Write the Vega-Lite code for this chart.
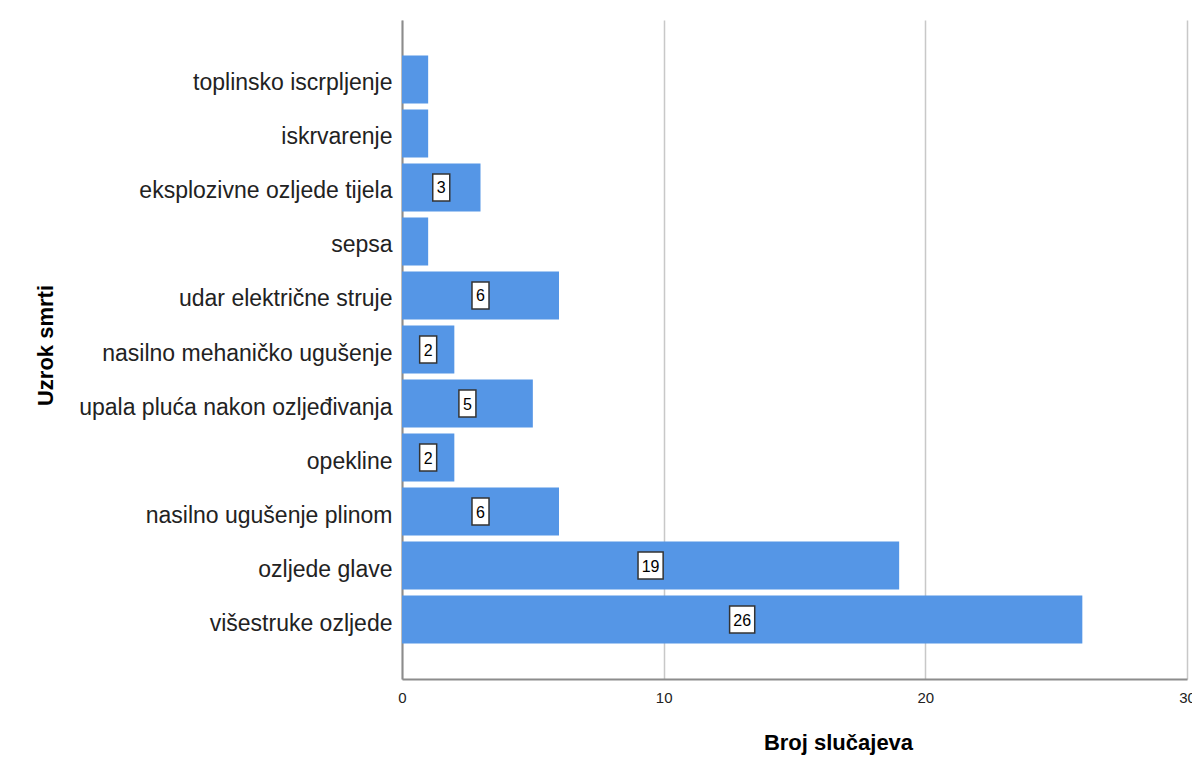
{
  "$schema": "https://vega.github.io/schema/vega-lite/v6.json",
  "autosize": "none",
  "width": 785,
  "height": 659,
  "padding": {"left": 402, "top": 20, "right": 5, "bottom": 92},
  "background": "white",
  "config": {
    "font": "Liberation Sans",
    "view": {"stroke": null}
  },
  "data": {
    "values": [
      {"uzrok": "toplinsko iscrpljenje", "broj": 1},
      {"uzrok": "iskrvarenje", "broj": 1},
      {"uzrok": "eksplozivne ozljede tijela", "broj": 3},
      {"uzrok": "sepsa", "broj": 1},
      {"uzrok": "udar električne struje", "broj": 6},
      {"uzrok": "nasilno mehaničko ugušenje", "broj": 2},
      {"uzrok": "upala pluća nakon ozljeđivanja", "broj": 5},
      {"uzrok": "opekline", "broj": 2},
      {"uzrok": "nasilno ugušenje plinom", "broj": 6},
      {"uzrok": "ozljede glave", "broj": 19},
      {"uzrok": "višestruke ozljede", "broj": 26}
    ]
  },
  "encoding": {
    "y": {
      "field": "uzrok",
      "type": "nominal",
      "sort": null,
      "scale": {"paddingInner": 0.111, "paddingOuter": 0.657},
      "axis": {
        "title": "Uzrok smrti",
        "titleFontSize": 22,
        "titleFontWeight": "bold",
        "titleColor": "#000",
        "titleX": -357,
        "titleY": 325,
        "titleBaseline": "middle",
        "labelFontSize": 23,
        "labelColor": "#222",
        "labelPadding": 10,
        "labelOffset": 4,
        "labelLimit": 400,
        "ticks": false,
        "domainColor": "#8c8c8c",
        "domainWidth": 2,
        "grid": false
      }
    }
  },
  "layer": [
    {
      "mark": {"type": "bar", "color": "#5596e6"},
      "encoding": {
        "x": {
          "field": "broj",
          "type": "quantitative",
          "scale": {"domain": [0, 30], "nice": false},
          "axis": {
            "title": "Broj slučajeva",
            "titleFontSize": 22,
            "titleFontWeight": "bold",
            "titleColor": "#000",
            "titlePadding": 27,
            "titleX": 436,
            "values": [0, 10, 20, 30],
            "labelFontSize": 15,
            "labelColor": "#222",
            "labelPadding": 11,
            "labelFlush": false,
            "labelBound": false,
            "labelOverlap": false,
            "ticks": false,
            "domainColor": "#8c8c8c",
            "domainWidth": 2,
            "grid": true,
            "gridColor": "#c8c8c8",
            "gridWidth": 1.5
          }
        }
      }
    },
    {
      "transform": [{"filter": "datum.broj >= 2 && datum.broj < 10"}, {"calculate": "datum.broj / 2", "as": "sredina"}],
      "mark": {"type": "point", "shape": "M-0.63,-1H0.63V1H-0.63Z", "filled": true, "fill": "white", "stroke": "#333", "strokeWidth": 1.5, "opacity": 1, "size": 729},
      "encoding": {"x": {"field": "sredina", "type": "quantitative"}}
    },
    {
      "transform": [{"filter": "datum.broj >= 10"}, {"calculate": "datum.broj / 2", "as": "sredina"}],
      "mark": {"type": "point", "shape": "M-0.93,-1H0.93V1H-0.93Z", "filled": true, "fill": "white", "stroke": "#333", "strokeWidth": 1.5, "opacity": 1, "size": 729},
      "encoding": {"x": {"field": "sredina", "type": "quantitative"}}
    },
    {
      "transform": [{"filter": "datum.broj >= 2"}, {"calculate": "datum.broj / 2", "as": "sredina"}],
      "mark": {"type": "text", "fontSize": 16, "color": "#000", "align": "center", "baseline": "middle", "dy": 1},
      "encoding": {
        "x": {"field": "sredina", "type": "quantitative"},
        "text": {"field": "broj", "type": "quantitative"}
      }
    }
  ]
}
